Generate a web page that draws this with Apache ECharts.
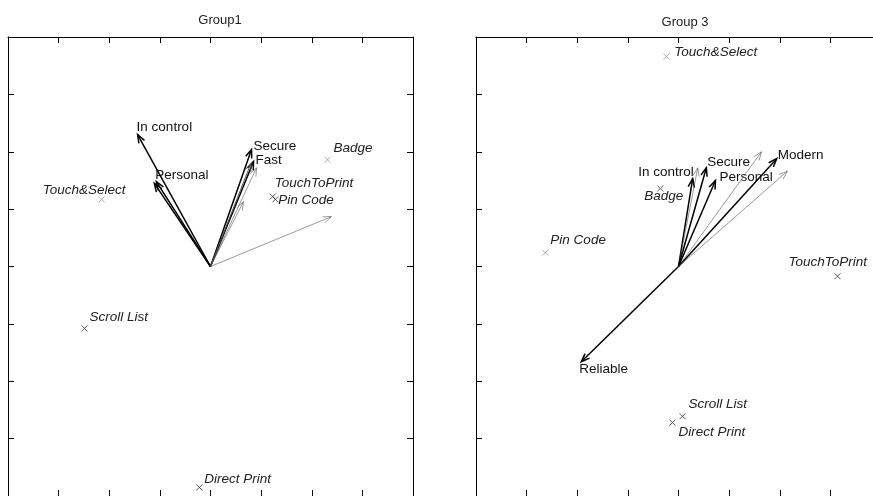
<!DOCTYPE html>
<html>
<head>
<meta charset="utf-8">
<script src="https://cdn.jsdelivr.net/npm/echarts@6/dist/echarts.min.js"></script>
<style>
  html, body { margin: 0; padding: 0; background: #fff; }
  #chart { width: 873px; height: 496px; }
</style>
</head>
<body>
<div id="chart"></div>
<script>
// Group1 - products (points)
const g1Products = ['Touch&Select', 'Badge', 'TouchToPrint', 'Pin Code', 'Scroll List', 'Direct Print'];
const g1ProductX = [-2.15, 2.31, 1.23, 1.28, -2.49, -0.22];
const g1ProductY = [1.17, 1.86, 1.22, 1.17, -1.08, -3.85];
// Group1 - attributes (vectors)
const g1Attrs = ['In control', 'Personal', '', 'Secure', 'Fast', '', '', '', ''];
const g1AttrX = [-1.44, -1.07, -1.11, 0.81, 0.85, 0.80, 0.91, 0.65, 2.39];
const g1AttrY = [2.30, 1.48, 1.45, 2.04, 1.83, 1.80, 1.72, 1.13, 0.87];

// Group 3 - products
const g3Products = ['Touch&Select', 'Badge', 'Pin Code', 'TouchToPrint', 'Scroll List', 'Direct Print'];
const g3ProductX = [-0.24, -0.36, -2.63, 3.14, 0.08, -0.12];
const g3ProductY = [3.66, 1.36, 0.24, -0.17, -2.61, -2.72];
// Group 3 - attributes
const g3Attrs = ['Reliable', 'In control', '', 'Secure', 'Personal', '', 'Modern', ''];
const g3AttrX = [-1.92, 0.28, 0.38, 0.55, 0.73, 1.64, 1.94, 2.15];
const g3AttrY = [-1.66, 1.53, 1.72, 1.72, 1.50, 2.00, 1.88, 1.66];

const axisMin = -4, axisMax = 4, axisStep = 1;

// styling (kept apart from the values)
const g1ProductGray = [true, true, false, false, false, false];
const g3ProductGray = [true, false, true, false, false, false];
const g1ProductLabel = [[-59, -9], [6, -12], [2, -13], [3, 1], [5, -11], [5, -8]];
const g3ProductLabel = [[8, -4], [-16, 8], [5, -12], [-49, -14], [6, -12], [6, 10]];
const g1AttrWeight = [1.5, 1.5, 1.5, 1.5, 1.5, 1, 0.6, 0.6, 0.6];
const g3AttrWeight = [1.5, 1.5, 0.6, 1.5, 1.5, 0.6, 1.5, 0.6];
const g1AttrLabel = [[-1, -7, 'left'], [-1, -6, 'left'], null, [2, -3, 'left'], [2, -1, 'left'], null, null, null, null];
const g3AttrLabel = [[-2, 8, 'left'], [1, -6, 'right'], null, [1, -6, 'left'], [4, -3, 'left'], null, [1, -3, 'left'], null];

const FONT = '"Liberation Sans", Arial, sans-serif';

function axisPair(gridIndex, kind) {
  const base = {
    type: 'value', gridIndex: gridIndex, min: axisMin, max: axisMax, interval: axisStep,
    axisLine: { show: true, onZero: false, lineStyle: { color: '#000', width: 1 } },
    axisTick: { show: true, inside: true, length: 6, lineStyle: { color: '#000', width: 1 } },
    axisLabel: { show: false },
    splitLine: { show: false }
  };
  return kind === 'x'
    ? [Object.assign({ position: 'bottom' }, base), Object.assign({ position: 'top' }, base)]
    : [Object.assign({ position: 'left' }, base), Object.assign({ position: 'right' }, base)];
}

function productSeries(axisIdx, names, xs, ys, gray, offs) {
  return {
    type: 'custom', xAxisIndex: axisIdx, yAxisIndex: axisIdx, clip: false,
    data: xs.map((x, i) => [x, ys[i], i]),
    renderItem: function (params, api) {
      const i = api.value(2);
      const p = api.coord([api.value(0), api.value(1)]);
      const h = 3;
      const col = gray[i] ? '#9a9a9a' : '#333';
      return {
        type: 'group',
        children: [
          { type: 'line', shape: { x1: p[0] - h, y1: p[1] - h, x2: p[0] + h, y2: p[1] + h }, style: { stroke: col, lineWidth: 0.8 } },
          { type: 'line', shape: { x1: p[0] - h, y1: p[1] + h, x2: p[0] + h, y2: p[1] - h }, style: { stroke: col, lineWidth: 0.8 } },
          { type: 'text', style: { text: names[i], x: p[0] + offs[i][0], y: p[1] + offs[i][1], fill: '#222', font: 'italic 13.5px ' + FONT, align: 'left', verticalAlign: 'middle' } }
        ]
      };
    }
  };
}

function attrSeries(axisIdx, names, xs, ys, weight, labels) {
  return {
    type: 'custom', xAxisIndex: axisIdx, yAxisIndex: axisIdx, clip: false,
    data: xs.map((x, i) => [x, ys[i], i]),
    renderItem: function (params, api) {
      const i = api.value(2);
      const o = api.coord([0, 0]);
      const t = api.coord([api.value(0), api.value(1)]);
      const ang = Math.atan2(t[1] - o[1], t[0] - o[0]);
      const w = weight[i];
      const col = w > 1 ? '#000' : '#555';
      const L = 9, a = 0.36;
      const p1 = [t[0] - L * Math.cos(ang - a), t[1] - L * Math.sin(ang - a)];
      const p2 = [t[0] - L * Math.cos(ang + a), t[1] - L * Math.sin(ang + a)];
      const kids = [
        { type: 'line', shape: { x1: o[0], y1: o[1], x2: t[0], y2: t[1] }, style: { stroke: col, lineWidth: w } },
        { type: 'polyline', shape: { points: [p1, t, p2] }, style: { stroke: col, lineWidth: w, fill: null } }
      ];
      const lb = labels[i];
      if (lb && names[i]) {
        kids.push({ type: 'text', style: { text: names[i], x: t[0] + lb[0], y: t[1] + lb[1], fill: '#111', font: '13.5px ' + FONT, align: lb[2], verticalAlign: 'middle' } });
      }
      return { type: 'group', children: kids };
    }
  };
}

const chart = echarts.init(document.getElementById('chart'));
const x1 = axisPair(0, 'x'), x3 = axisPair(1, 'x');
const y1 = axisPair(0, 'y'), y3 = axisPair(1, 'y');

chart.setOption({
  animation: false,
  title: [
    { text: 'Group1', left: 215, top: 9, textAlign: 'center', textStyle: { fontFamily: FONT, fontSize: 13, fontWeight: 'normal', color: '#222' } },
    { text: 'Group 3', left: 680, top: 11, textAlign: 'center', textStyle: { fontFamily: FONT, fontSize: 13, fontWeight: 'normal', color: '#222' } }
  ],
  grid: [
    { left: 8, top: 37, width: 405, height: 459, outerBoundsMode: 'none' },
    { left: 476, top: 37, width: 405, height: 459, outerBoundsMode: 'none' }
  ],
  // axes 0,1 -> grid 0 ; axes 2,3 -> grid 1
  xAxis: [x1[0], x1[1], x3[0], x3[1]],
  yAxis: [y1[0], y1[1], y3[0], y3[1]],
  series: [
    attrSeries(0, g1Attrs, g1AttrX, g1AttrY, g1AttrWeight, g1AttrLabel),
    productSeries(0, g1Products, g1ProductX, g1ProductY, g1ProductGray, g1ProductLabel),
    attrSeries(2, g3Attrs, g3AttrX, g3AttrY, g3AttrWeight, g3AttrLabel),
    productSeries(2, g3Products, g3ProductX, g3ProductY, g3ProductGray, g3ProductLabel)
  ]
});
</script>
</body>
</html>
